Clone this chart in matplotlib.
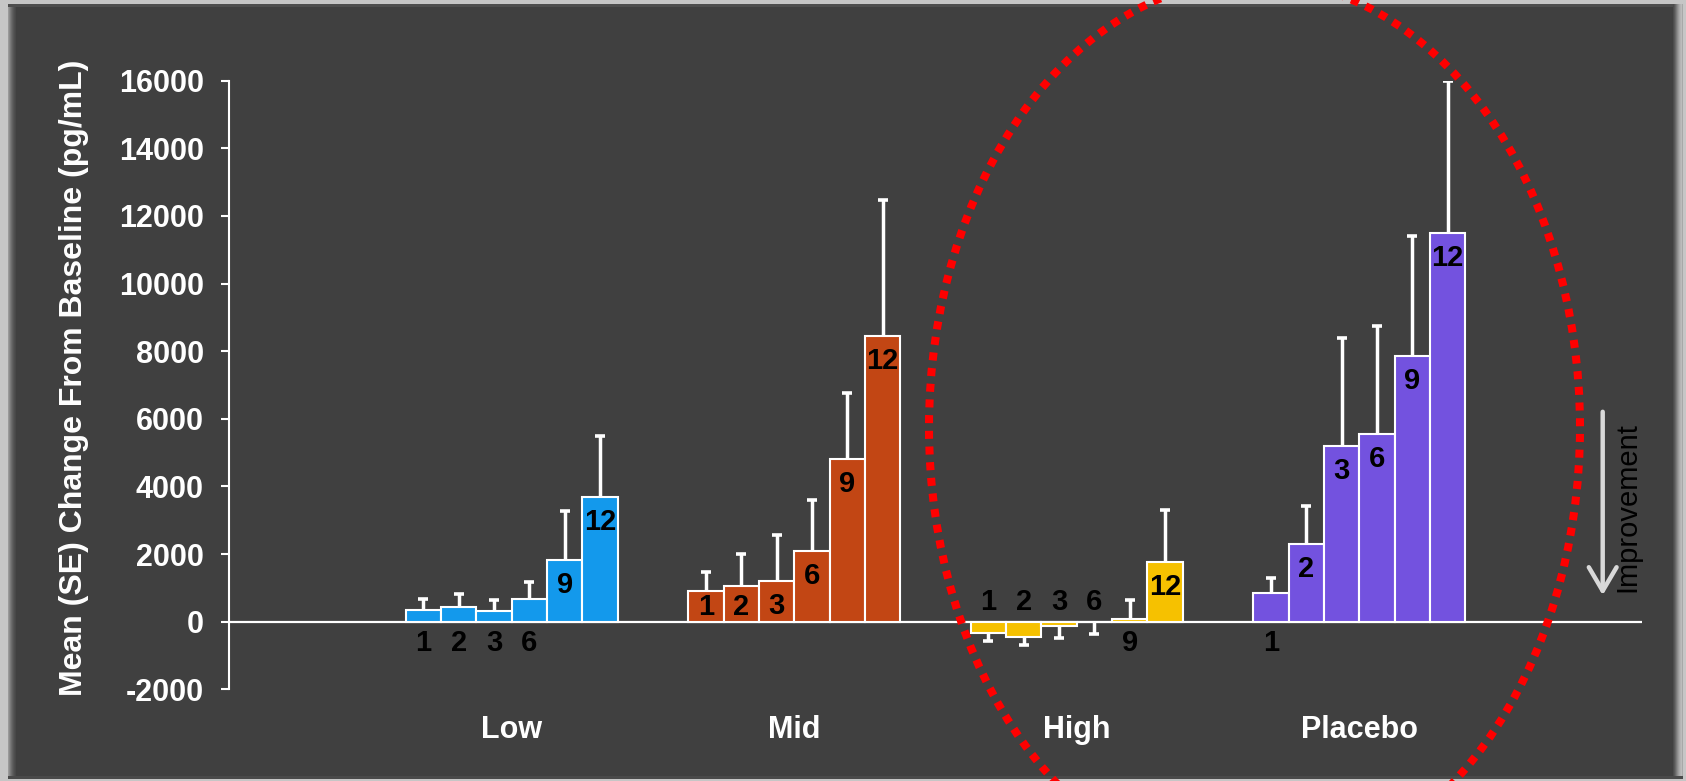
import matplotlib
matplotlib.use("Agg")
import matplotlib.pyplot as plt
import numpy as np
from matplotlib import font_manager
from matplotlib.patches import Rectangle, Ellipse, FancyArrowPatch

# ---- data -------------------------------------------------------------
groups = ["Low", "Mid", "High", "Placebo"]
months = ["1", "2", "3", "6", "9", "12"]

low_mean = [345, 443, 305, 670, 1823, 3680]
low_se = [315, 365, 335, 513, 1449, 1820]

mid_mean = [907, 1055, 1193, 2090, 4810, 8460]
mid_se = [552, 936, 1360, 1498, 1942, 4000]

high_mean = [-325, -453, -128, -10, 70, 1765]
high_se = [247, 237, 345, 364, 561, 1537]

placebo_mean = [833, 2291, 5196, 5539, 7843, 11482]
placebo_se = [454, 1140, 3198, 3198, 3565, 4518]

group_colors = ["#1399EC", "#C24614", "#F6C100", "#7352DF"]

y_ticks = [-2000, 0, 2000, 4000, 6000, 8000, 10000, 12000, 14000, 16000]
y_label = "Mean (SE) Change From Baseline (pg/mL)"
arrow_label = "Improvement"

means = [low_mean, mid_mean, high_mean, placebo_mean]
ses = [low_se, mid_se, high_se, placebo_se]


# ---- fonts ------------------------------------------------------------
def pick(*names):
    avail = {f.name for f in font_manager.fontManager.ttflist}
    for n in names:
        if n in avail:
            return n
    return "DejaVu Sans"


main_font = pick("Liberation Sans", "Arial", "DejaVu Sans")
narrow_font = pick("Liberation Sans Narrow", "Arial Narrow", main_font)

W, H = 1686, 781
DPI = 100
fig = plt.figure(figsize=(W / DPI, H / DPI), dpi=DPI, facecolor="#c6c6c6")


def fx(px):
    return px / W


def fy(py):
    return 1 - py / H


def frect(x0, y0, x1, y1, color):
    fig.add_artist(Rectangle((fx(x0), fy(y1)), fx(x1) - fx(x0), fy(y0) - fy(y1),
                             transform=fig.transFigure, facecolor=color,
                             edgecolor="none", zorder=-10))


# ---- bevelled dark panel ---------------------------------------------
frect(0, 0, W, H, "#c6c6c6")
frect(8, 4, 1683, 779, "#404040")
for i, c in enumerate(["#9a9a9a", "#8a8a8a", "#7a7a7a", "#6c6c6c",
                       "#606060", "#565656", "#4e4e4e", "#484848"]):
    frect(8 + i, 4 + i * 0.4, 9 + i, 779, c)
frect(8, 4, 1683, 7, "#4e4e4e")
for i, c in enumerate(["#4c4c4c", "#585858", "#686868", "#7a7a7a", "#8c8c8c",
                       "#9c9c9c", "#aaaaaa", "#b4b4b4", "#bcbcbc", "#a8a8a8"]):
    frect(1673 + i, 4, 1674 + i, 779, c)
frect(8, 776, 1683, 779, "#4a4a4a")

# ---- axes -------------------------------------------------------------
ax_left, ax_right, ax_top, ax_bottom = 229, 1642, 80.6, 689.3
ax = fig.add_axes([fx(ax_left), fy(ax_bottom), fx(ax_right) - fx(ax_left),
                   fy(ax_top) - fy(ax_bottom)])
ax.set_facecolor("none")
ax.set_xlim(-8, 32)
ax.set_ylim(-2000, 16000)

for s in ["top", "right", "bottom"]:
    ax.spines[s].set_visible(False)
ax.spines["left"].set_color("white")
ax.spines["left"].set_linewidth(1.5)

ax.set_yticks(y_ticks)
ax.set_yticklabels([str(t) for t in y_ticks])
ax.tick_params(axis="y", colors="white", length=6, width=1.5, pad=12,
               labelsize=22)
for lab in ax.get_yticklabels():
    lab.set_fontfamily(main_font)
    lab.set_fontweight("bold")

group_centers = [8 * g for g in range(len(groups))]
ax.set_xticks(group_centers)
ax.set_xticklabels(groups)
ax.tick_params(axis="x", length=0, colors="white", labelsize=22, pad=18.5)
for lab in ax.get_xticklabels():
    lab.set_fontfamily(main_font)
    lab.set_fontweight("bold")

ax.axhline(0, color="white", lw=1.6, zorder=2)

offsets = np.arange(len(months)) - (len(months) - 1) / 2
fig.canvas.draw()


def px_height(v):
    return ax.transData.transform((0, v))[1] - ax.transData.transform((0, 0))[1]


for g, (m, se, col) in enumerate(zip(means, ses, group_colors)):
    m = np.array(m, dtype=float)
    se = np.array(se, dtype=float)
    xs = group_centers[g] + offsets
    ax.bar(xs, m, width=1.0, color=col, edgecolor="white", linewidth=1.5,
           zorder=3)
    # one-sided SE whiskers pointing away from zero
    ends = m + np.where(m < 0, -se, se)
    ax.vlines(xs, m, ends, colors="white", lw=2.5, zorder=4)
    ax.plot(xs, ends, ls="none", marker="_", markersize=7, mew=2.6,
            color="white", zorder=4)
    for x, v, lab in zip(xs, m, months):
        if v < 0:
            anchor, off = 0, 20
        elif v < 870:
            anchor, off = 0, -21
        else:
            h = px_height(v)
            anchor, off = v, -min(25, h - 15)
        ax.annotate(lab, xy=(x, anchor), xytext=(0, off * 72 / DPI),
                    textcoords="offset points", ha="center", va="center",
                    fontsize=21, fontweight="bold", family=narrow_font,
                    color="black", zorder=5)

# ---- y label ----------------------------------------------------------
fig.text(fx(74), fy(378), y_label, rotation=90, ha="center", va="center",
         color="white", fontsize=23, fontweight="bold", family=main_font)

# ---- improvement arrow -----------------------------------------------
fig.add_artist(FancyArrowPatch((fx(1602.7), fy(409)), (fx(1602.7), fy(598)),
                               transform=fig.transFigure,
                               arrowstyle="->,head_length=0.85,head_width=0.5",
                               mutation_scale=20, color="#d9d9d9", lw=3.2,
                               zorder=6))
fig.text(fx(1627), fy(507), arrow_label, rotation=90, ha="center", va="center",
         color="black", fontsize=21, family=main_font)

# ---- highlight ellipse -----------------------------------------------
fig.add_artist(Ellipse((fx(1254.5), fy(427.4)), width=651 / W, height=896.4 / H,
                       transform=fig.transFigure, fill=False, edgecolor="#FF0000",
                       lw=5.8, linestyle=(0, (1, 0.95)), zorder=10))

fig.savefig("out.png", dpi=DPI, facecolor=fig.get_facecolor())
